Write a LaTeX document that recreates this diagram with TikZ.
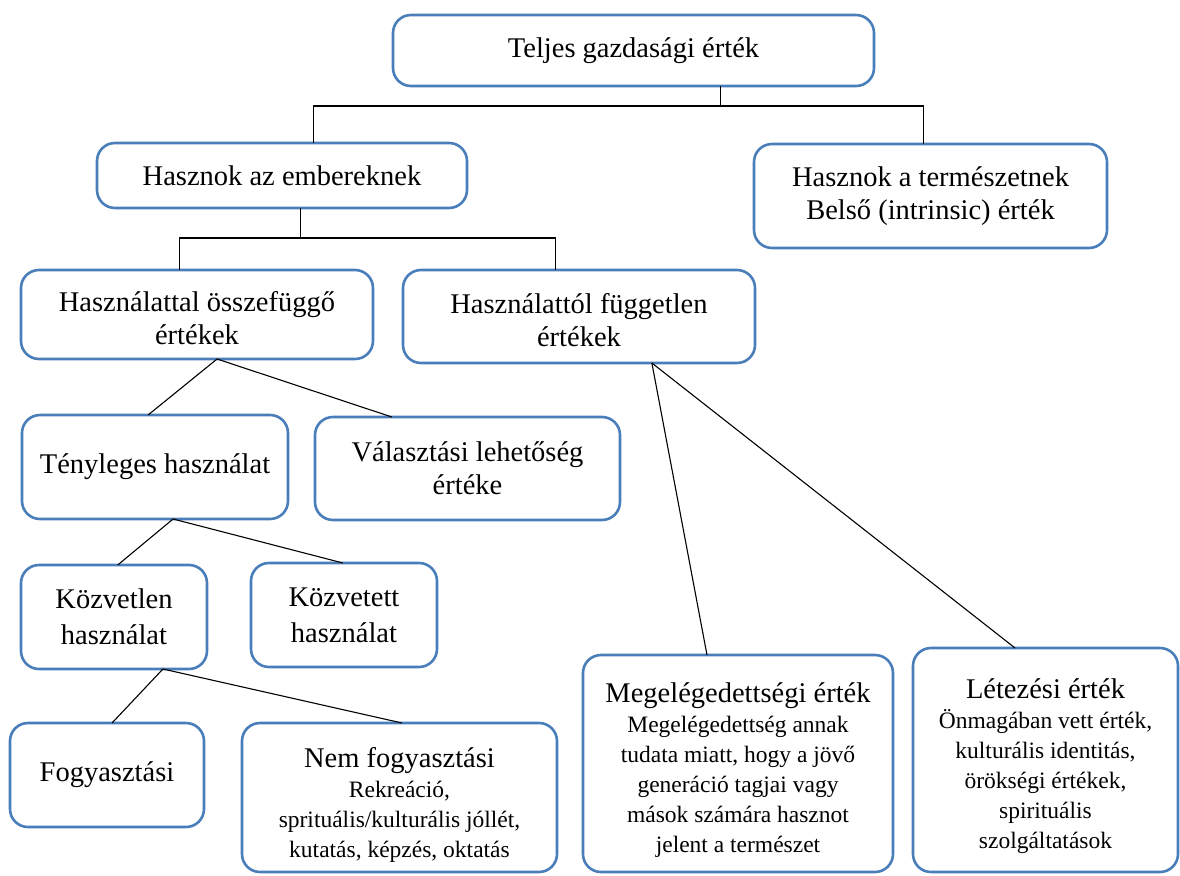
\documentclass[tikz,border=0pt]{standalone}
\usepackage{fontspec}
\setmainfont{Liberation Serif}
\usetikzlibrary{calc}
\definecolor{boxblue}{RGB}{74,126,187}
\newcommand{\fbig}{\fontsize{28.5}{33}\selectfont}
\newcommand{\fsmall}{\fontsize{23.5}{30}\selectfont}
\begin{document}
\begin{tikzpicture}[x=1pt,y=-1pt,
  box/.style={draw=boxblue, line width=2.6pt, rounded corners=18pt, inner sep=0pt, outer sep=0pt, align=center, font=\fbig, fill=white},
  sbox/.style={box, font=\fsmall},
  link/.style={draw=black, line width=1.1pt}]
\useasboundingbox (0,0) rectangle (1180,875);
% nodes
\node[box, minimum width=481pt, minimum height=71pt] (teljes) at (633.5,50.5) {Teljes gazdasági érték};
\node[box, minimum width=370pt, minimum height=65pt] (hemb) at (282,175.5) {Hasznok az embereknek};
\node[box, minimum width=353pt, minimum height=104pt] (hterm) at (930.5,196) {Hasznok a természetnek\\Belső (intrinsic) érték};
\node[box, minimum width=352pt, minimum height=89pt] (hasz1) at (197,314.5) {\rule{0pt}{27pt}Használattal összefüggő\\értékek};
\node[box, minimum width=352pt, minimum height=93pt] (hasz2) at (579,316.5) {\rule{0pt}{27pt}Használattól független\\értékek};
\node[box, minimum width=266pt, minimum height=104pt] (teny) at (155,467) {Tényleges használat};
\node[box, minimum width=305pt, minimum height=103pt] (valaszt) at (467.5,468.5) {Választási lehetőség\\értéke};
\node[box, minimum width=186pt, minimum height=104pt] (kozvlen) at (114,617) {Közvetlen\\[3pt]használat};
\node[box, minimum width=186pt, minimum height=104pt] (kozvett) at (344,615) {Közvetett\\[3pt]használat};
\node[box, minimum width=194pt, minimum height=104pt] (fogy) at (107,775) {Fogyasztási};
\node[sbox, minimum width=315pt, minimum height=149pt] (nemf) at (399.5,797.5) {{\fbig\rule{0pt}{35pt}Nem fogyasztási}\\Rekreáció,\\sprituális/kulturális jóllét,\\kutatás, képzés, oktatás};
\node[sbox, minimum width=310pt, minimum height=217pt] (meg) at (738,763.5) {{\fbig\rule{0pt}{33pt}Megelégedettségi érték}\\Megelégedettség annak\\tudata miatt, hogy a jövő\\generáció tagjai vagy\\mások számára hasznot\\jelent a természet};
\node[sbox, minimum width=265pt, minimum height=224pt] (letez) at (1045.5,760) {{\fbig\rule{0pt}{33pt}Létezési érték}\\Önmagában vett érték,\\kulturális identitás,\\örökségi értékek,\\spirituális\\szolgáltatások};
% bus levels
\coordinate (bus1) at (0,106);
\coordinate (bus2) at (0,238);
% anchor points
\coordinate (t1) at ($(teljes.south west)!.68!(teljes.south east)$);
\coordinate (h1) at ($(hemb.north west)!.584!(hemb.north east)$);
\coordinate (h2) at ($(hterm.north west)!.48!(hterm.north east)$);
\coordinate (e1) at ($(hemb.south west)!.549!(hemb.south east)$);
\coordinate (a1) at ($(hasz1.north west)!.449!(hasz1.north east)$);
\coordinate (a2) at ($(hasz2.north west)!.432!(hasz2.north east)$);
% elbow connectors
\draw[link] (t1) -- (t1 |- bus1);
\draw[link] (h1) -- (h1 |- bus1) -- (h2 |- bus1) -- (h2);
\draw[link] (e1) -- (e1 |- bus2);
\draw[link] (a1) -- (a1 |- bus2) -- (a2 |- bus2) -- (a2);
% diagonal connectors
\draw[link] ($(hasz1.south west)!.557!(hasz1.south east)$) -- ($(teny.north west)!.474!(teny.north east)$);
\draw[link] ($(hasz1.south west)!.557!(hasz1.south east)$) -- ($(valaszt.north west)!.252!(valaszt.north east)$);
\draw[link] ($(hasz2.south west)!.707!(hasz2.south east)$) -- ($(meg.north west)!.4!(meg.north east)$);
\draw[link] ($(hasz2.south west)!.707!(hasz2.south east)$) -- ($(letez.north west)!.385!(letez.north east)$);
\draw[link] ($(teny.south west)!.568!(teny.south east)$) -- ($(kozvlen.north west)!.52!(kozvlen.north east)$);
\draw[link] ($(teny.south west)!.568!(teny.south east)$) -- ($(kozvett.north west)!.494!(kozvett.north east)$);
\draw[link] ($(kozvlen.south west)!.763!(kozvlen.south east)$) -- ($(fogy.north west)!.526!(fogy.north east)$);
\draw[link] ($(kozvlen.south west)!.763!(kozvlen.south east)$) -- ($(nemf.north west)!.508!(nemf.north east)$);
\end{tikzpicture}
\end{document}
